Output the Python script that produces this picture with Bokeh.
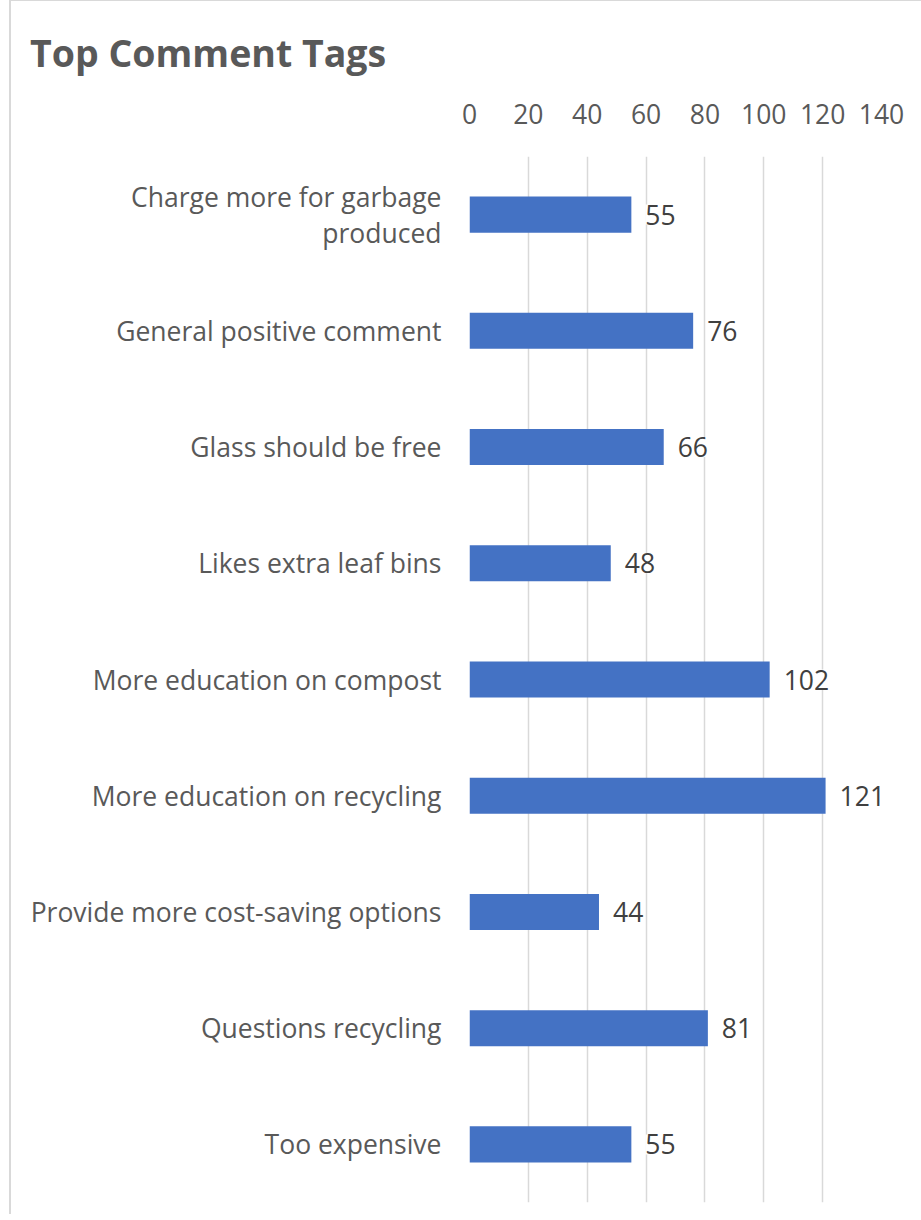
from bokeh.plotting import figure
from bokeh.models import ColumnDataSource, FactorRange, Range1d, FixedTicker, LabelSet, Div
from bokeh.layouts import column
from bokeh.core.properties import value
from bokeh.embed import file_html
from bokeh.resources import INLINE

title_text = "Top Comment Tags"
categories = [
    "Charge more for garbage\nproduced",
    "General positive comment",
    "Glass should be free",
    "Likes extra leaf bins",
    "More education on compost",
    "More education on recycling",
    "Provide more cost-saving options",
    "Questions recycling",
    "Too expensive",
]
counts = [55, 76, 66, 48, 102, 121, 44, 81, 55]
x_ticks = [0, 20, 40, 60, 80, 100, 120, 140]

FONT = "Open Sans"
GREY = "#595959"
FS = "26.5px"

source = ColumnDataSource(dict(cat=categories, val=counts, lbl=[str(v) for v in counts]))

title = Div(
    text=f'<div style="font-family:\'{FONT}\';font-weight:bold;font-size:37.5px;color:{GREY};'
         f'line-height:1.362;padding:21px 0 0 14px;white-space:nowrap">{title_text}</div>',
    width=905, height=70,
)

p = figure(
    y_range=FactorRange(factors=list(reversed(categories)), range_padding=0),
    x_range=Range1d(0, 140),
    x_axis_location="above",
    width=905, height=1133,
    output_backend="svg", toolbar_location=None,
    min_border_left=458, min_border_right=35, min_border_top=75, min_border_bottom=12,
)

p.hbar(y="cat", right="val", left=0, height=0.31, source=source,
       fill_color="#4472C4", line_color=None)

lkw = dict(x="val", y="cat", text="lbl", source=source, x_offset=14,
           text_baseline="middle", text_align="left",
           text_font=value(FONT), text_font_size=FS, text_color="#404040",
           background_fill_color="white")
if "padding" in LabelSet.properties():
    lkw["padding"] = 4
p.add_layout(LabelSet(**lkw))

p.xaxis.ticker = FixedTicker(ticks=x_ticks)
for ax in (p.xaxis[0], p.yaxis[0]):
    ax.axis_line_color = None
    ax.major_tick_line_color = None
    ax.minor_tick_line_color = None
    ax.major_label_text_font = FONT
    ax.major_label_text_font_size = FS
    ax.major_label_text_color = GREY
p.xaxis.major_label_standoff = 27
p.yaxis.major_label_standoff = 22
p.yaxis.major_label_text_line_height = 1.0

p.xgrid.grid_line_color = "#d9d9d9"
p.xgrid.grid_line_width = 1.5
p.ygrid.grid_line_color = None
p.outline_line_color = None
p.background_fill_color = "white"
p.border_fill_color = "white"

layout = column(title, p, spacing=0,
                styles={"margin-left": "9px", "border-left": "2px solid #d9d9d9",
                        "border-top": "1px solid #d9d9d9", "background": "white"})

open("out.html", "w").write(file_html(layout, INLINE))
